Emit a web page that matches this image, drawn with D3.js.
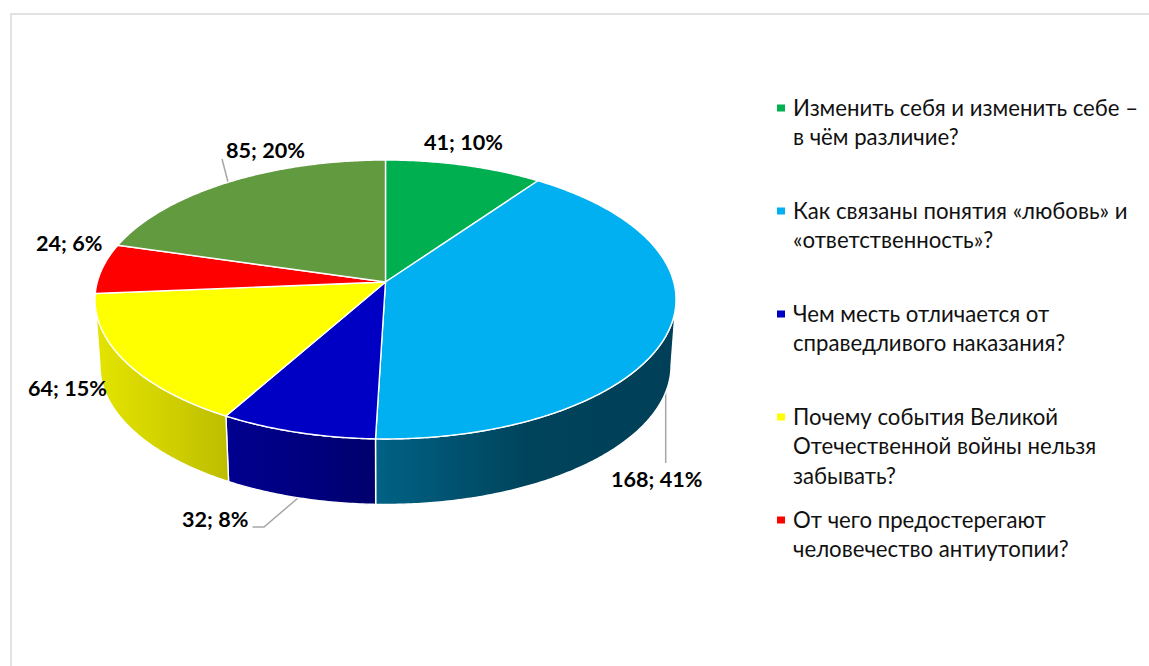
<!DOCTYPE html>
<html lang="ru"><head><meta charset="utf-8">
<script src="https://cdn.jsdelivr.net/npm/d3@7/dist/d3.min.js"></script>
<style>html,body{margin:0;padding:0;background:#fff;overflow:hidden}svg{display:block}text{font-family:Lato,"Open Sans",sans-serif}</style>
</head><body><div id="c"></div>
<script>
// data
const values = [41, 168, 32, 64, 24, 85];
const percents = ["10%", "41%", "8%", "15%", "6%", "20%"];
const topColors = ["#00B050", "#00B0F0", "#0000C4", "#FFFF00", "#FF0000", "#629A3F"];
const wallColors = [null, ["#006285", "#00445C", "#003F57"], ["#000090", "#00007F", "#00006C"], ["#E4E400", "#D2D200", "#BDBD00"], null, null];
const legendLines = [
  ["Изменить себя и изменить себе –", "в чём различие?"],
  ["Как связаны понятия «любовь» и", "«ответственность»?"],
  ["Чем месть отличается от", "справедливого наказания?"],
  ["Почему события Великой", "Отечественной войны нельзя", "забывать?"],
  ["От чего предостерегают", "человечество антиутопии?"]
];
const legendColors = ["#00B050", "#00B0F0", "#0000C4", "#FFFF00", "#FF0000"];

// layout
const W = 1149, H = 666;
const labelPos = [[424,150],[611,487],[182,527],[28,396],[36,251],[226,158]];
const leaders = [null, [[665.7,390],[665.7,463]], [[252.5,527],[264,527],[298,498]], null, null, [[222,159],[228,182]]];
const legendY = [115.5, 218.5, 321.5, 424.5, 527.5];
const cx = 385.5, persp = -0.1254;
const rim = {top:{R:288.2,a:101.9,b:282}, bot:{R:283.3,a:93.2,b:348}};

function project(theta, r){
  const u = Math.sin(theta), v = -Math.cos(theta), d = 1 + persp*v;
  return [cx + r.R*u/d, (r.a*v + r.b)/d];
}
const svg = d3.select("#c").append("svg").attr("width",W).attr("height",H);
const defs = svg.append("defs");
const line = d3.line();
const arcs = d3.pie().sort(null).value(d=>d)(values);
const rimPts = (a,b,r) => { const n = Math.max(2,Math.ceil(Math.abs(b-a)/0.01));
  return d3.range(n+1).map(i=>project(a+(b-a)*i/n,r)); };

// frame
svg.append("path").attr("d",line([[11,H],[11,14],[W,14]])).attr("fill","none").attr("stroke","#E2E2E2").attr("stroke-width",2);

// leaders under pie
svg.selectAll(".leader").data(leaders.filter(Boolean)).join("path").attr("class","leader")
  .attr("d",d=>line(d)).attr("fill","none").attr("stroke","#A6A6A6").attr("stroke-width",1.5);

// walls
const tR = Math.acos(persp), tL = 2*Math.PI - tR;
arcs.forEach((s,i)=>{
  const a = Math.max(s.startAngle,tR), b = Math.min(s.endAngle,tL);
  if(b<=a || !wallColors[i]) return;
  const t = rimPts(a,b,rim.top), g = rimPts(a,b,rim.bot).reverse();
  const xs = t.concat(g).map(p=>p[0]);
  const id = "w"+i;
  const gr = defs.append("linearGradient").attr("id",id).attr("gradientUnits","userSpaceOnUse")
    .attr("x1",d3.min(xs)).attr("x2",d3.max(xs)).attr("y1",0).attr("y2",0);
  wallColors[i].forEach((c,k)=>gr.append("stop").attr("offset",k/2).attr("stop-color",c));
  svg.append("path").attr("d",line(t.concat(g))+"Z").attr("fill",`url(#${id})`)
    .attr("stroke","#fff").attr("stroke-width",1.4).attr("stroke-linejoin","round");
});

// top slices
svg.selectAll(".slice").data(arcs).join("path").attr("class","slice")
  .attr("d",s=>line([[cx,rim.top.b]].concat(rimPts(s.startAngle,s.endAngle,rim.top)))+"Z")
  .attr("fill",(s,i)=>topColors[i]).attr("stroke","#fff").attr("stroke-width",1.4).attr("stroke-linejoin","round");

// labels
svg.selectAll(".lab").data(values).join("text").attr("class","lab")
  .attr("x",(d,i)=>labelPos[i][0]).attr("y",(d,i)=>labelPos[i][1])
  .attr("font-size",21.6).attr("font-weight",700).attr("fill","#000")
  .text((d,i)=>`${d}; ${percents[i]}`);

// legend
legendLines.forEach((ls,i)=>{
  svg.append("rect").attr("x",777).attr("y",legendY[i]-11).attr("width",8).attr("height",7).attr("fill",legendColors[i]);
  ls.forEach((t,k)=>svg.append("text").attr("x",793).attr("y",legendY[i]+k*29.5)
    .attr("font-size",22.2).attr("fill","#111").text(t));
});
</script></body></html>
